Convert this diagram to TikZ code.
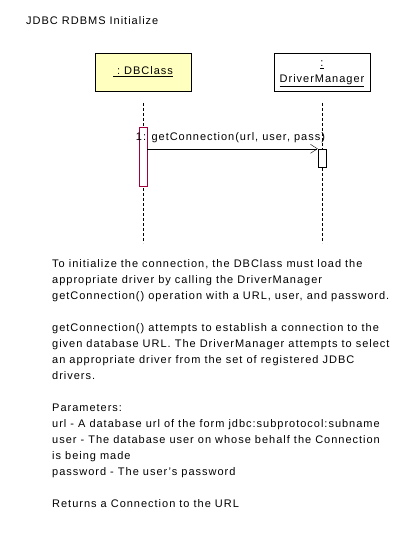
\documentclass[tikz,border=0pt]{standalone}
\usepackage{fontspec}
\setmainfont{Liberation Sans}[LetterSpace=9]
\usetikzlibrary{arrows.meta}
\definecolor{objyellow}{RGB}{255,255,192}
\definecolor{actred}{RGB}{160,0,60}

\begin{document}
\begin{tikzpicture}[x=1pt, y=-1pt, font=\fontsize{11}{16}\selectfont,
  objbox/.style={draw, semithick, minimum width=96pt, minimum height=38pt, inner sep=1pt, align=center},
  actbox/.style={draw, fill=white, minimum width=8pt, inner sep=0pt},
  lifeline/.style={dash pattern=on 3pt off 2pt}]
  \useasboundingbox (0,0) rectangle (413,537);
  \node[right, inner sep=0pt] (title) at (26,21) {JDBC RDBMS Initialize};
  % objects
  \node[objbox, fill=objyellow] (dbclass) at (143,72) {\underline{\ :\ DBClass}};
  \node[objbox, fill=white] (drvmgr) at (322,72) {};
  \node[align=center, inner sep=0pt] (drvname) at (322,74) {\underline{:}\\[0pt]\underline{DriverManager}};
  % lifelines
  \draw[lifeline] (143,103) -- (143,243);
  \draw[lifeline] (322,103) -- (322,243);
  % activations
  \node[actbox, draw=actred, minimum height=59pt] (act1) at (143,156.5) {};
  \node[actbox, minimum height=18pt] (act2) at (322,158) {};
  \draw[-{Straight Barb[length=7pt, width=9pt]}] (act1.east |- act2.north) -- (act2.north west)
    node[pos=0.5, above=2pt, xshift=-2pt] (msg) {1: getConnection(url, user, pass)};
  % note text
  \node[anchor=north west, align=left, inner sep=0pt] (note) at (52,259) {%
    To initialize the connection, the DBClass must load the\\
    appropriate driver by calling the DriverManager\\
    getConnection() operation with a URL, user, and password.\\[16pt]
    getConnection() attempts to establish a connection to the\\
    given database URL. The DriverManager attempts to select\\
    an appropriate driver from the set of registered JDBC\\
    drivers.\\[16pt]
    Parameters:\\
    url - A database url of the form jdbc:subprotocol:subname\\
    user - The database user on whose behalf the Connection\\
    is being made\\
    password - The user's password\\[16pt]
    Returns a Connection to the URL};
\end{tikzpicture}
\end{document}
